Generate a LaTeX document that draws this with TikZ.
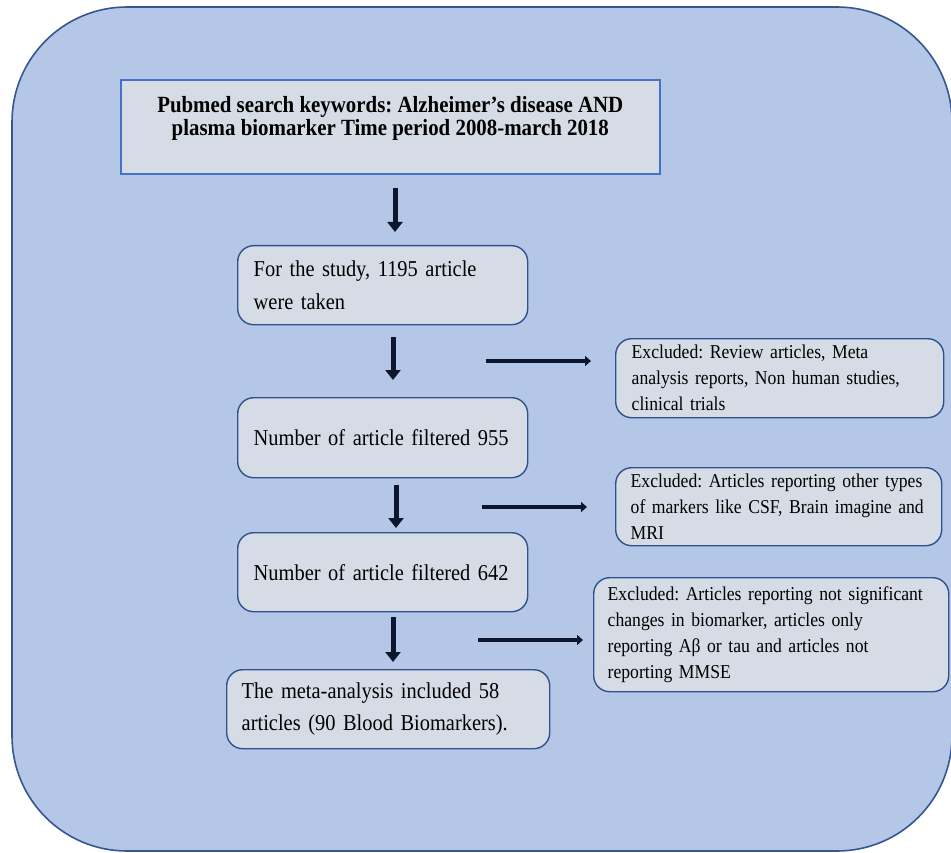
\documentclass[tikz,border=0pt]{standalone}
\usepackage{fontspec}
\setmainfont{Liberation Serif}[FakeStretch=0.9]
\usetikzlibrary{arrows.meta}

\definecolor{framefill}{RGB}{180,199,231}
\definecolor{frameline}{RGB}{52,86,145}
\definecolor{boxfill}{RGB}{214,220,229}
\definecolor{boxline}{RGB}{47,82,143}
\definecolor{searchline}{RGB}{68,114,196}
\definecolor{arrowink}{RGB}{12,22,45}

\tikzset{
	frame/.style={draw=frameline, fill=framefill, line width=1.6pt, rounded corners=115pt},
	sbox/.style={draw=searchline, fill=boxfill, line width=1.6pt, anchor=north west, align=center, inner sep=0pt, font=\fontsize{23.2}{23}\selectfont\bfseries},
	rbox/.style={draw=boxline, fill=boxfill, line width=1.4pt, rounded corners=16pt, anchor=north west, align=left, inner xsep=16pt, inner ysep=0pt, font=\fontsize{22.7}{33}\selectfont},
	exbox/.style={rbox, font=\fontsize{19.6}{26}\selectfont},
	vArrow/.style={draw=arrowink, line width=5pt, -{Triangle[width=15pt,length=10pt]}},
	hArrow/.style={draw=arrowink, line width=3.6pt, -{Triangle[width=10pt,length=6pt]}},
}

\begin{document}
\frenchspacing
\begin{tikzpicture}[x=1pt, y=-1pt]
			\useasboundingbox (0,0) rectangle (951,853);
			\draw[frame] (12,7) rectangle (952,851);
			% main column
			\node[sbox, minimum width=539pt, minimum height=94pt] (search) at (120,79)
				{Pubmed search keywords: Alzheimer’s disease AND\\plasma biomarker Time period 2008-march 2018\rule[-21pt]{0pt}{21pt}};
			\node[rbox, text width=258pt, minimum height=79pt] (study) at (237,245)
				{For the study, 1195 article\\were taken};
			\node[rbox, text width=258pt, minimum height=80pt] (f955) at (237,397)
				{Number of article filtered 955};
			\node[rbox, text width=258pt, minimum height=79pt] (f642) at (237,532)
				{Number of article filtered 642};
			\node[rbox, inner xsep=15pt, text width=293pt, minimum height=79pt, font=\fontsize{22.7}{32}\selectfont] (final) at (226,669)
				{The meta-analysis included 58\\articles (90 Blood Biomarkers).};
			% exclusions
			\node[exbox, text width=296pt, minimum height=79pt] (ex1) at (615,338)
				{Excluded: Review articles, Meta\\analysis reports, Non human studies,\\clinical trials};
			\node[exbox, inner xsep=15pt, text width=296pt, minimum height=78pt] (ex2) at (615,467)
				{Excluded: Articles reporting other types\\of markers like CSF, Brain imagine and\\MRI};
			\node[exbox, inner xsep=14pt, text width=327pt, minimum height=114pt] (ex3) at (593,577)
				{Excluded: Articles reporting not significant\\changes in biomarker, articles only\\reporting Aβ or tau and articles not\\reporting MMSE};
			\path
			(486,361) coordinate (h1)
			(482,507) coordinate (h2)
			(478,640) coordinate (h3)
			;
			\foreach \a/\b/\x/\s/\e in {search/study/395/13pt/13pt, study/f955/393/12pt/17pt, f955/f642/396/7pt/4pt, f642/final/393/5pt/7pt} {
				\coordinate (vx) at (\x,0);
				\draw[vArrow, shorten <=\s, shorten >=\e] (\a.south -| vx) -- (\b.north -| vx);
			}
			\foreach \p/\q/\e in {h1/ex1/24pt, h2/ex2/28pt, h3/ex3/10pt} \draw[hArrow, shorten >=\e] (\p) -- (\p -| \q.west);
		\end{tikzpicture}
\end{document}
